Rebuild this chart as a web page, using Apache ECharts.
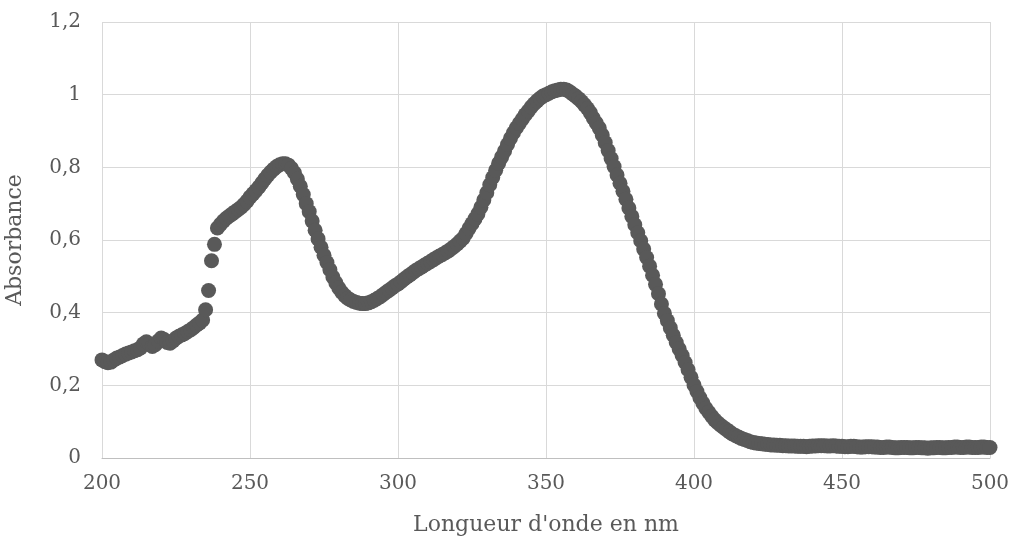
<!DOCTYPE html>
<html>
<head>
<meta charset="utf-8">
<script src="https://cdn.jsdelivr.net/npm/echarts@6/dist/echarts.min.js"></script>
<style>
  html, body { margin: 0; padding: 0; background: #fff; }
  #chart { width: 1013px; height: 541px; }
</style>
</head>
<body>
<div id="chart"></div>
<script>
// Absorbance spectrum, one reading per nm, split in blocks of 50 nm
const absorbance200to249 = [
  0.270, 0.265, 0.262, 0.264, 0.270, 0.275, 0.278, 0.282, 0.286, 0.289,
  0.292, 0.295, 0.298, 0.303, 0.314, 0.320, 0.314, 0.307, 0.312, 0.322,
  0.330, 0.326, 0.318, 0.316, 0.322, 0.330, 0.335, 0.339, 0.343, 0.348,
  0.353, 0.359, 0.366, 0.372, 0.380, 0.408, 0.461, 0.543, 0.588, 0.633,
  0.643, 0.652, 0.660, 0.666, 0.672, 0.678, 0.684, 0.690, 0.698, 0.707
];
const absorbance250to299 = [
  0.718, 0.727, 0.736, 0.746, 0.757, 0.768, 0.778, 0.787, 0.795, 0.802,
  0.807, 0.810, 0.810, 0.806, 0.797, 0.785, 0.768, 0.748, 0.725, 0.700,
  0.678, 0.652, 0.627, 0.603, 0.580, 0.558, 0.538, 0.518, 0.498, 0.482,
  0.468, 0.456, 0.447, 0.440, 0.435, 0.431, 0.428, 0.426, 0.425, 0.425,
  0.427, 0.430, 0.434, 0.439, 0.444, 0.450, 0.456, 0.462, 0.468, 0.474
];
const absorbance300to349 = [
  0.479, 0.485, 0.492, 0.498, 0.504, 0.510, 0.516, 0.521, 0.526, 0.531,
  0.536, 0.541, 0.546, 0.551, 0.556, 0.560, 0.565, 0.570, 0.576, 0.582,
  0.589, 0.597, 0.605, 0.618, 0.632, 0.645, 0.658, 0.672, 0.690, 0.710,
  0.730, 0.752, 0.772, 0.792, 0.811, 0.828, 0.845, 0.863, 0.880, 0.895,
  0.909, 0.921, 0.933, 0.945, 0.955, 0.966, 0.975, 0.983, 0.990, 0.996
];
const absorbance350to399 = [
  1.000, 1.004, 1.008, 1.011, 1.013, 1.015, 1.015, 1.013, 1.008, 1.002,
  0.996, 0.989, 0.981, 0.972, 0.962, 0.950, 0.935, 0.922, 0.908, 0.889,
  0.868, 0.846, 0.824, 0.802, 0.779, 0.756, 0.734, 0.712, 0.688, 0.665,
  0.642, 0.620, 0.598, 0.575, 0.552, 0.528, 0.503, 0.478, 0.452, 0.424,
  0.398, 0.378, 0.358, 0.338, 0.318, 0.300, 0.282, 0.263, 0.243, 0.222
];
const absorbance400to449 = [
  0.201, 0.183, 0.166, 0.151, 0.137, 0.126, 0.115, 0.105, 0.097, 0.090,
  0.084, 0.078, 0.072, 0.066, 0.062, 0.058, 0.054, 0.051, 0.048, 0.045,
  0.043, 0.041, 0.040, 0.039, 0.038, 0.037, 0.036, 0.036, 0.035, 0.035,
  0.034, 0.034, 0.033, 0.033, 0.033, 0.032, 0.032, 0.032, 0.031, 0.032,
  0.033, 0.033, 0.034, 0.034, 0.034, 0.033, 0.033, 0.034, 0.033, 0.032
];
const absorbance450to500 = [
  0.032, 0.031, 0.031, 0.032, 0.032, 0.031, 0.030, 0.030, 0.031, 0.031,
  0.031, 0.030, 0.030, 0.029, 0.029, 0.030, 0.030, 0.029, 0.028, 0.028,
  0.029, 0.029, 0.029, 0.028, 0.028, 0.029, 0.029, 0.028, 0.028, 0.027,
  0.028, 0.028, 0.029, 0.029, 0.028, 0.028, 0.029, 0.029, 0.030, 0.030,
  0.029, 0.029, 0.030, 0.030, 0.029, 0.029, 0.029, 0.030, 0.030, 0.029,
  0.029
];

const startWavelength = 200; // nm, step 1 nm

const absorbance = [].concat(
  absorbance200to249, absorbance250to299, absorbance300to349,
  absorbance350to399, absorbance400to449, absorbance450to500
);
const points = absorbance.map((a, i) => [startWavelength + i, a]);

const textColor = '#595959';
const font = 'DejaVu Serif';

const chart = echarts.init(document.getElementById('chart'));
chart.setOption({
  animation: false,
  grid: { left: 102, right: 23, top: 22, bottom: 83, outerBoundsMode: 'none', containLabel: false },
  xAxis: {
    type: 'value',
    min: 200,
    max: 500,
    interval: 50,
    name: "Longueur d'onde en nm",
    nameLocation: 'middle',
    nameGap: 56,
    nameTextStyle: { color: textColor, fontFamily: font, fontSize: 22 },
    axisLine: { show: true, lineStyle: { color: '#bfbfbf', width: 1 } },
    axisTick: { show: false },
    axisLabel: { color: textColor, fontFamily: font, fontSize: 20, margin: 16 },
    splitLine: { show: true, lineStyle: { color: '#d9d9d9', width: 1 } }
  },
  yAxis: {
    type: 'value',
    min: 0,
    max: 1.2,
    interval: 0.2,
    name: 'Absorbance',
    nameLocation: 'middle',
    nameGap: 76,
    nameTextStyle: { color: textColor, fontFamily: font, fontSize: 22 },
    axisLine: { show: false },
    axisTick: { show: false },
    axisLabel: {
      color: textColor, fontFamily: font, fontSize: 20, margin: 21,
      formatter: v => String(Math.round(v * 10) / 10).replace('.', ',')
    },
    splitLine: { show: true, lineStyle: { color: '#d9d9d9', width: 1 } }
  },
  series: [{
    type: 'scatter',
    data: points,
    symbol: 'circle',
    symbolSize: 15,
    itemStyle: { color: '#595959', opacity: 1 }
  }]
});
</script>
</body>
</html>
